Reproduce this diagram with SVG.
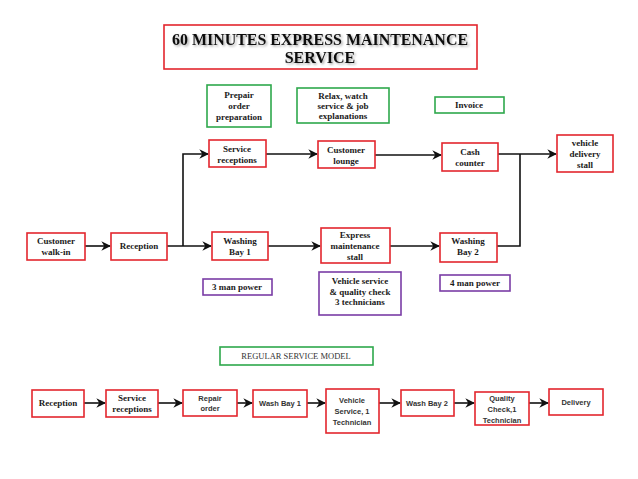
<svg xmlns="http://www.w3.org/2000/svg" width="638" height="479" viewBox="0 0 638 479">
<style>
.r{fill:#fff;stroke:#e3262d;stroke-width:1.6}
.g{fill:#fff;stroke:#2ea84c;stroke-width:1.6}
.p{fill:#fff;stroke:#7a3ca6;stroke-width:1.6}
.t{font-family:"Liberation Serif",serif;font-weight:bold;font-size:9px;fill:#1a1a1a;text-anchor:middle}
.s{font-family:"Liberation Sans",Arial,sans-serif;font-weight:bold;font-size:7.5px;fill:#333;text-anchor:middle}
.c{fill:none;stroke:#111;stroke-width:1.6}
.ttl{font-family:"Liberation Serif",serif;font-weight:bold;font-size:16px;fill:#111;text-anchor:middle}
</style>
<defs>
<marker id="ah" viewBox="0 0 10 10" refX="9" refY="5" markerWidth="6" markerHeight="6" orient="auto" markerUnits="strokeWidth">
<path d="M0,0 L10,5 L0,10 L3,5 Z" fill="#111"/>
</marker>
<filter id="sh" x="-10%" y="-20%" width="130%" height="160%">
<feDropShadow dx="1.5" dy="1.5" stdDeviation="1" flood-color="#000" flood-opacity="0.35"/>
</filter>
</defs>
<rect width="638" height="479" fill="#fff"/>
<g id="title">
<rect x="164" y="25" width="313" height="44" class="r"/>
<text class="ttl" x="320" y="45" textLength="296" lengthAdjust="spacingAndGlyphs" filter="url(#sh)">60 MINUTES EXPRESS MAINTENANCE</text>
<text class="ttl" x="320" y="63" filter="url(#sh)">SERVICE</text>
</g>
<g id="connectors">
<path class="c" d="M85,246 H110" marker-end="url(#ah)"/>
<path class="c" d="M167,246 H211" marker-end="url(#ah)"/>
<path class="c" d="M183,246 V154 H208" marker-end="url(#ah)"/>
<path class="c" d="M266,154 H317" marker-end="url(#ah)"/>
<path class="c" d="M375,155 H441" marker-end="url(#ah)"/>
<path class="c" d="M498,154 H556" marker-end="url(#ah)"/>
<path class="c" d="M497,246 H520 V154"/>
<path class="c" d="M268,246 H320" marker-end="url(#ah)"/>
<path class="c" d="M390,246 H439" marker-end="url(#ah)"/>
<path class="c" d="M84,403 H105" marker-end="url(#ah)"/>
<path class="c" d="M158,403 H182" marker-end="url(#ah)"/>
<path class="c" d="M237,403 H252" marker-end="url(#ah)"/>
<path class="c" d="M307,403 H325" marker-end="url(#ah)"/>
<path class="c" d="M379,403 H400" marker-end="url(#ah)"/>
<path class="c" d="M454,403 H474" marker-end="url(#ah)"/>
<path class="c" d="M529,403 H548" marker-end="url(#ah)"/>
</g>
<g id="prepair">
<rect x="207" y="85" width="64" height="42" class="g"/>
<text class="t" x="239" y="98">Prepair</text><text class="t" x="239" y="109">order</text><text class="t" x="239" y="120">preparation</text>
</g>
<g id="relax">
<rect x="297" y="88" width="92" height="35" class="g"/>
<text class="t" x="343" y="99">Relax, watch</text><text class="t" x="343" y="109">service &amp; job</text><text class="t" x="343" y="119">explanations</text>
</g>
<g id="invoice">
<rect x="435" y="97" width="69" height="16" class="g"/>
<text class="t" x="469" y="108">Invoice</text>
</g>
<g id="service-receptions">
<rect x="209" y="140" width="57" height="27" class="r"/>
<text class="t" x="237" y="152">Service</text><text class="t" x="237" y="163">receptions</text>
</g>
<g id="customer-lounge">
<rect x="318" y="141" width="57" height="27" class="r"/>
<text class="t" x="346" y="153">Customer</text><text class="t" x="346" y="164">lounge</text>
</g>
<g id="cash-counter">
<rect x="442" y="143" width="56" height="28" class="r"/>
<text class="t" x="470" y="155">Cash</text><text class="t" x="470" y="166">counter</text>
</g>
<g id="delivery-stall">
<rect x="557" y="135" width="56" height="37" class="r"/>
<text class="t" x="585" y="146">vehicle</text><text class="t" x="585" y="157">delivery</text><text class="t" x="585" y="168">stall</text>
</g>
<g id="walk-in">
<rect x="27" y="233" width="58" height="27" class="r"/>
<text class="t" x="56" y="244">Customer</text><text class="t" x="56" y="255">walk-in</text>
</g>
<g id="reception">
<rect x="111" y="233" width="56" height="27" class="r"/>
<text class="t" x="139" y="249">Reception</text>
</g>
<g id="washing-bay-1">
<rect x="212" y="232" width="56" height="28" class="r"/>
<text class="t" x="240" y="244">Washing</text><text class="t" x="240" y="255">Bay 1</text>
</g>
<g id="express">
<rect x="321" y="228" width="69" height="35" class="r"/>
<text class="t" x="355" y="238">Express</text><text class="t" x="355" y="249">maintenance</text><text class="t" x="355" y="260">stall</text>
</g>
<g id="washing-bay-2">
<rect x="440" y="233" width="57" height="29" class="r"/>
<text class="t" x="468" y="244">Washing</text><text class="t" x="468" y="255">Bay 2</text>
</g>
<g id="man-power-3">
<rect x="203" y="279" width="69" height="16" class="p"/>
<text class="t" x="237" y="290">3 man power</text>
</g>
<g id="vehicle-service">
<rect x="319" y="272" width="82" height="43" class="p"/>
<text class="t" x="360" y="284">Vehicle service</text><text class="t" x="360" y="295">&amp; quality check</text><text class="t" x="360" y="305">3 technicians</text>
</g>
<g id="man-power-4">
<rect x="440" y="275" width="70" height="16" class="p"/>
<text class="t" x="475" y="286">4 man power</text>
</g>
<g id="regular-model">
<rect x="220" y="347" width="153" height="18" class="g"/>
<text x="296" y="359" style="font-family:'Liberation Serif',serif;font-size:8.5px;fill:#333;text-anchor:middle">REGULAR SERVICE MODEL</text>
</g>
<g id="b-reception">
<rect x="32" y="390" width="52" height="27" class="r"/>
<text class="t" x="58" y="406">Reception</text>
</g>
<g id="b-service-receptions">
<rect x="106" y="390" width="52" height="27" class="r"/>
<text class="t" x="132" y="401">Service</text><text class="t" x="132" y="412">receptions</text>
</g>
<g id="b-repair-order">
<rect x="183" y="390" width="54" height="26" class="r"/>
<text class="s" x="210" y="401">Repair</text><text class="s" x="210" y="411">order</text>
</g>
<g id="b-wash-bay-1">
<rect x="253" y="390" width="54" height="27" class="r"/>
<text class="s" x="280" y="406">Wash Bay 1</text>
</g>
<g id="b-vehicle-service">
<rect x="326" y="389" width="53" height="44" class="r"/>
<text class="s" x="352" y="403">Vehicle</text><text class="s" x="352" y="414">Service, 1</text><text class="s" x="352" y="425">Technician</text>
</g>
<g id="b-wash-bay-2">
<rect x="401" y="390" width="53" height="26" class="r"/>
<text class="s" x="427" y="406">Wash Bay 2</text>
</g>
<g id="b-quality">
<rect x="475" y="392" width="54" height="33" class="r"/>
<text class="s" x="502" y="401">Quality</text><text class="s" x="502" y="412">Check,1</text><text class="s" x="502" y="423">Technician</text>
</g>
<g id="b-delivery">
<rect x="549" y="389" width="54" height="26" class="r"/>
<text class="s" x="576" y="405">Delivery</text>
</g>
</svg>
